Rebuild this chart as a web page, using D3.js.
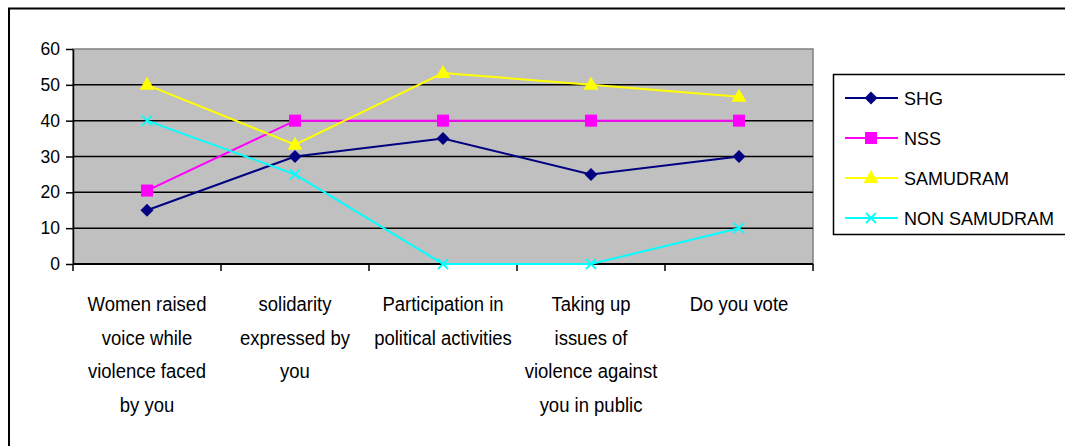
<!DOCTYPE html>
<html>
<head>
<meta charset="utf-8">
<script src="https://cdn.jsdelivr.net/npm/d3@7"></script>
<style>
  html, body { margin: 0; padding: 0; background: #fff; }
  svg { display: block; font-family: "Liberation Sans", Arial, sans-serif; }
</style>
</head>
<body>
<svg id="chart" width="1065" height="446"></svg>
<script>
// Survey categories (multi-line labels)
const categories = [
  ["Women raised", "voice while", "violence faced", "by you"],
  ["solidarity", "expressed by", "you"],
  ["Participation in", "political activities"],
  ["Taking up", "issues of", "violence against", "you in public"],
  ["Do you vote"]
];
const seriesNames = ["SHG", "NSS", "SAMUDRAM", "NON SAMUDRAM"];
const shgValues = [15, 30, 35, 25, 30];
const nssValues = [20.5, 40, 40, 40, 40];
const samudramValues = [50, 33.3, 53.3, 50, 46.7];
const nonSamudramValues = [40, 25, 0, 0, 10];
const yTicks = [0, 10, 20, 30, 40, 50, 60];

const colors = ["#000080", "#ff00ff", "#ffff00", "#00ffff"];
const symbols = ["diamond", "square", "triangle", "cross"];
const seriesValues = [shgValues, nssValues, samudramValues, nonSamudramValues];

const svg = d3.select("#chart");

// outer chart frame (runs off the right and bottom edges)
svg.append("rect")
  .attr("x", 9).attr("y", 8.5)
  .attr("width", 1100).attr("height", 500)
  .attr("fill", "#fff").attr("stroke", "#000").attr("stroke-width", 2);

const plot = { left: 73, right: 813, top: 49, bottom: 264 };

const x = d3.scaleBand()
  .domain(d3.range(categories.length))
  .range([plot.left, plot.right]);
const y = d3.scaleLinear().domain([0, 60]).range([plot.bottom, plot.top]);

// plot background
svg.append("rect")
  .attr("x", plot.left).attr("y", plot.top)
  .attr("width", plot.right - plot.left).attr("height", plot.bottom - plot.top)
  .attr("fill", "#c0c0c0").attr("stroke", "#808080").attr("stroke-width", 1.5);

// horizontal gridlines
svg.append("g").selectAll("line")
  .data(yTicks.filter(t => t > 0 && t < 60))
  .join("line")
  .attr("x1", plot.left).attr("x2", plot.right)
  .attr("y1", d => y(d)).attr("y2", d => y(d))
  .attr("stroke", "#000").attr("stroke-width", 1.5);

// y axis
const yAxis = d3.axisLeft(y).tickValues(yTicks).tickSize(7).tickPadding(6).tickSizeOuter(0);
const gy = svg.append("g").attr("transform", `translate(${plot.left},0)`).call(yAxis);
gy.select(".domain").attr("stroke", "#000").attr("stroke-width", 1.5);
gy.selectAll(".tick line").attr("stroke", "#000").attr("stroke-width", 1.5);
gy.selectAll(".tick text").attr("font-size", 17.5).attr("fill", "#000")
  .attr("font-family", "Liberation Sans, Arial, sans-serif");

// x axis line with boundary ticks
svg.append("line")
  .attr("x1", plot.left).attr("x2", plot.right)
  .attr("y1", plot.bottom).attr("y2", plot.bottom)
  .attr("stroke", "#000").attr("stroke-width", 2);
const boundaries = d3.range(categories.length + 1).map(i =>
  i < categories.length ? x(i) : x(i - 1) + x.bandwidth());
svg.append("g").selectAll("line")
  .data(boundaries)
  .join("line")
  .attr("x1", d => d).attr("x2", d => d)
  .attr("y1", plot.bottom).attr("y2", plot.bottom + 7)
  .attr("stroke", "#000").attr("stroke-width", 1.5);

// category labels
const labelG = svg.append("g").attr("font-size", 18.5).attr("fill", "#000")
  .attr("text-anchor", "middle");
categories.forEach((lines, i) => {
  const cx = x(i) + x.bandwidth() / 2;
  const t = labelG.append("text")
    .attr("transform", `translate(${cx},311) scale(1,1.06)`);
  lines.forEach((ln, k) => {
    t.append("tspan").attr("x", 0).attr("y", k * 31.8).text(ln);
  });
});

// marker drawing helper
function marker(g, type, color, cx, cy) {
  if (type === "diamond") {
    g.append("path").attr("d", `M${cx},${cy - 6.5}L${cx + 6.5},${cy}L${cx},${cy + 6.5}L${cx - 6.5},${cy}Z`)
      .attr("fill", color);
  } else if (type === "square") {
    g.append("rect").attr("x", cx - 6).attr("y", cy - 6).attr("width", 12).attr("height", 12)
      .attr("fill", color);
  } else if (type === "triangle") {
    g.append("path").attr("d", `M${cx},${cy - 8}L${cx + 7.5},${cy + 5}L${cx - 7.5},${cy + 5}Z`)
      .attr("fill", color);
  } else {
    g.append("path").attr("d", `M${cx - 5},${cy - 5}L${cx + 5},${cy + 5}M${cx - 5},${cy + 5}L${cx + 5},${cy - 5}`)
      .attr("stroke", color).attr("stroke-width", 1.8).attr("fill", "none");
  }
}

const line = d3.line()
  .x((d, i) => x(i) + x.bandwidth() / 2)
  .y(d => y(d));

seriesValues.forEach((vals, s) => {
  const g = svg.append("g");
  g.append("path").datum(vals).attr("d", line)
    .attr("fill", "none").attr("stroke", colors[s]).attr("stroke-width", 2);
  vals.forEach((v, i) => marker(g, symbols[s], colors[s], x(i) + x.bandwidth() / 2, y(v)));
});

// legend
const legend = svg.append("g");
legend.append("rect")
  .attr("x", 833.5).attr("y", 74.5).attr("width", 300).attr("height", 160)
  .attr("fill", "#fff").attr("stroke", "#000").attr("stroke-width", 1.5);
seriesNames.forEach((name, s) => {
  const ly = 98 + s * 40;
  legend.append("line").attr("x1", 845).attr("x2", 898).attr("y1", ly).attr("y2", ly)
    .attr("stroke", colors[s]).attr("stroke-width", 2);
  marker(legend, symbols[s], colors[s], 871, ly);
  legend.append("text").attr("x", 904).attr("y", ly + 6.5)
    .attr("font-size", 18).attr("fill", "#000").text(name);
});
</script>
</body>
</html>
